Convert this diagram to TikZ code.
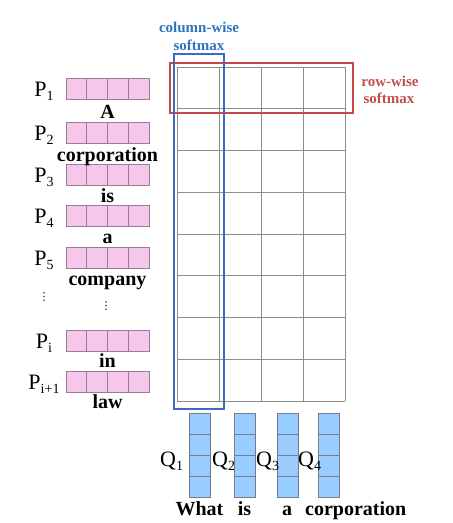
\documentclass[tikz,border=0pt]{standalone}
\usepackage{fontspec}
\setmainfont{Liberation Serif}
\newfontfamily\symfont{DejaVu Sans}
\definecolor{pinkfill}{RGB}{246,199,234}
\definecolor{pinkline}{RGB}{150,125,150}
\definecolor{qfill}{RGB}{153,204,255}
\definecolor{qline}{RGB}{115,125,145}
\definecolor{gridgray}{RGB}{140,140,140}
\definecolor{boxblue}{RGB}{68,104,190}
\definecolor{txtblue}{RGB}{46,117,190}
\definecolor{boxred}{RGB}{200,70,70}
\definecolor{txtred}{RGB}{192,80,77}
\newcommand\sbs[1]{\raisebox{-4pt}{\fontsize{14}{14}\selectfont #1}}
\newcommand\pvec[1]{\foreach \k in {0,...,3}{\draw[pcell] (66+20.75*\k,#1-10.5) rectangle ++(20.75,21);}}
\newcommand\qvec[1]{\foreach \k in {0,...,3}{\draw[qcell] (#1,413+21*\k) rectangle ++(21,21);}}
\begin{document}
\begin{tikzpicture}[x=1pt,y=-1pt,
  pcell/.style={draw=pinkline,fill=pinkfill,line width=0.8pt},
  qcell/.style={draw=qline,fill=qfill,line width=0.8pt},
  gridline/.style={draw=gridgray,line width=0.9pt},
  word/.style={font=\fontsize{20}{20}\selectfont\bfseries,inner sep=0pt,anchor=base},
  vlabel/.style={font=\fontsize{22}{22}\selectfont,inner sep=0pt,anchor=base},
  softlbl/.style={font=\fontsize{15}{17.5}\selectfont\bfseries,inner sep=0pt,anchor=base,align=center},
  dotsym/.style={font=\symfont\fontsize{11}{11}\selectfont,inner sep=0pt}]
\useasboundingbox (0,0) rectangle (453,523);
% attention grid
\foreach \i in {0,...,4}{\draw[gridline] (177+42*\i,67) -- (177+42*\i,401);}
\foreach \j in {0,...,8}{\draw[gridline] (177,67+41.75*\j) -- (345,67+41.75*\j);}
% P vectors
\pvec{88.5}\pvec{133}\pvec{174.5}\pvec{215.5}\pvec{257.5}\pvec{340.5}\pvec{382}
\node[vlabel] (p1) at (44,96) {P\sbs{1}};
\node[vlabel] (p2) at (44,140.5) {P\sbs{2}};
\node[vlabel] (p3) at (44,182) {P\sbs{3}};
\node[vlabel] (p4) at (44,223) {P\sbs{4}};
\node[vlabel] (p5) at (44,265) {P\sbs{5}};
\node[vlabel] (pi) at (44,348) {P\sbs{i}};
\node[vlabel] (pi1) at (44,389.5) {P\sbs{i+1}};
\node[dotsym] (dl) at (44,297) {⋮};
\node[dotsym] (dr) at (106,306) {⋮};
\node[word] (wA) at (107.5,118) {A};
\node[word] (wcorp) at (107.5,161) {corporation};
\node[word] (wis) at (107.5,202) {is};
\node[word] (wa) at (107.5,243) {a};
\node[word] (wcomp) at (107.5,285) {company};
\node[word] (win) at (107.5,367) {in};
\node[word] (wlaw) at (107.5,408) {law};
% Q vectors
\qvec{189}\qvec{234}\qvec{277}\qvec{318}
\node[vlabel,anchor=base west] (q1) at (160,466) {Q\sbs{1}};
\node[vlabel,anchor=base west] (q2) at (212,466) {Q\sbs{2}};
\node[vlabel,anchor=base west] (q3) at (256,466) {Q\sbs{3}};
\node[vlabel,anchor=base west] (q4) at (298,466) {Q\sbs{4}};
\node[word] (bw1) at (199.5,515) {What};
\node[word] (bw2) at (244.5,515) {is};
\node[word] (bw3) at (287,515) {a};
\node[word,anchor=base west] (bw4) at (305,515) {corporation};
% softmax boxes
\draw[boxred,line width=1.4pt] (170,63) rectangle (353,113);
\draw[boxblue,line width=1.8pt] (174,54) rectangle (224,409);
\node[softlbl,text=txtblue] (cw1) at (199,32) {column-wise};
\node[softlbl,text=txtblue] (cw2) at (199,50) {softmax};
\node[softlbl,text=txtred] (rw1) at (390,86) {row-wise};
\node[softlbl,text=txtred] (rw2) at (389,103) {softmax};
\end{tikzpicture}
\end{document}
